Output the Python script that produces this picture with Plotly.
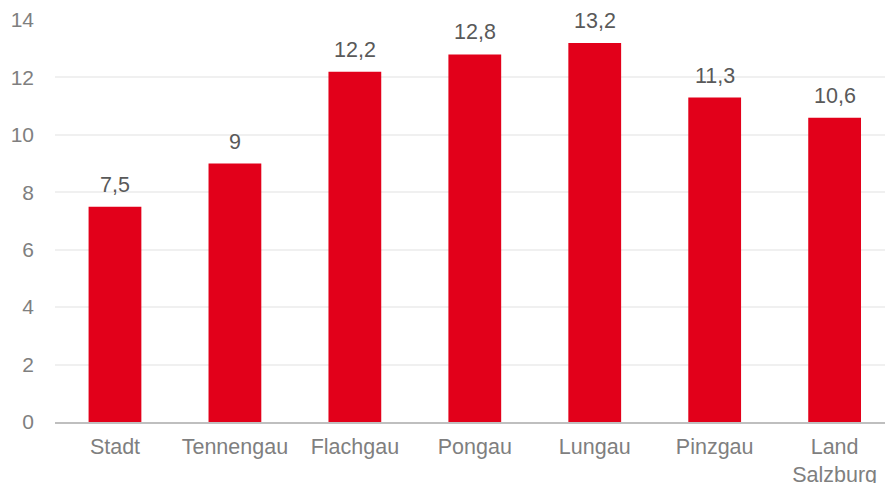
import plotly.graph_objects as go

# Regions of Salzburg and their values
regions = ["Stadt", "Tennengau", "Flachgau", "Pongau", "Lungau", "Pinzgau", "Land<br>Salzburg"]
values = [7.5, 9, 12.2, 12.8, 13.2, 11.3, 10.6]
y_ticks = [0, 2, 4, 6, 8, 10, 12, 14]

BAR_RED = "#e2001a"
TICK_GREY = "#7f7f7f"
LABEL_GREY = "#595959"
FONT = "Liberation Sans, Arial, sans-serif"

fig = go.Figure()
fig.add_trace(go.Bar(
    x=list(range(len(regions))),
    y=values,
    marker=dict(color=BAR_RED, line=dict(width=0)),
    width=0.44,
    hoverinfo="skip",
))

# value labels above each bar
for i, v in enumerate(values):
    fig.add_annotation(
        x=i, y=v, text=f"{v:g}".replace(".", ","),
        showarrow=False, yanchor="bottom", yshift=8,
        font=dict(family=FONT, size=21.5, color=LABEL_GREY),
    )

fig.update_layout(
    width=885, height=483,
    margin=dict(l=55, r=0, t=20, b=61),
    paper_bgcolor="white", plot_bgcolor="white",
    showlegend=False,
    separators=",.",
    font=dict(family=FONT, size=20, color=TICK_GREY),
    xaxis=dict(
        range=[-0.5, 6.42],
        tickmode="array",
        tickvals=list(range(len(regions))),
        ticktext=regions,
        showgrid=False,
        showline=True, linecolor="#bfbfbf", linewidth=2,
        ticks="", zeroline=False,
        tickfont=dict(family=FONT, size=21.5, color=TICK_GREY),
        ticklabelstandoff=4,
        automargin=False,
    ),
    yaxis=dict(
        range=[0, 14],
        tickmode="array", tickvals=y_ticks,
        showgrid=True, gridcolor="#f0f0f0", gridwidth=1.5,
        zeroline=False, showline=False, ticks="",
        tickfont=dict(family=FONT, size=21, color=TICK_GREY),
        ticklabelstandoff=20,
        automargin=False,
    ),
)

fig.write_html("out.html")
